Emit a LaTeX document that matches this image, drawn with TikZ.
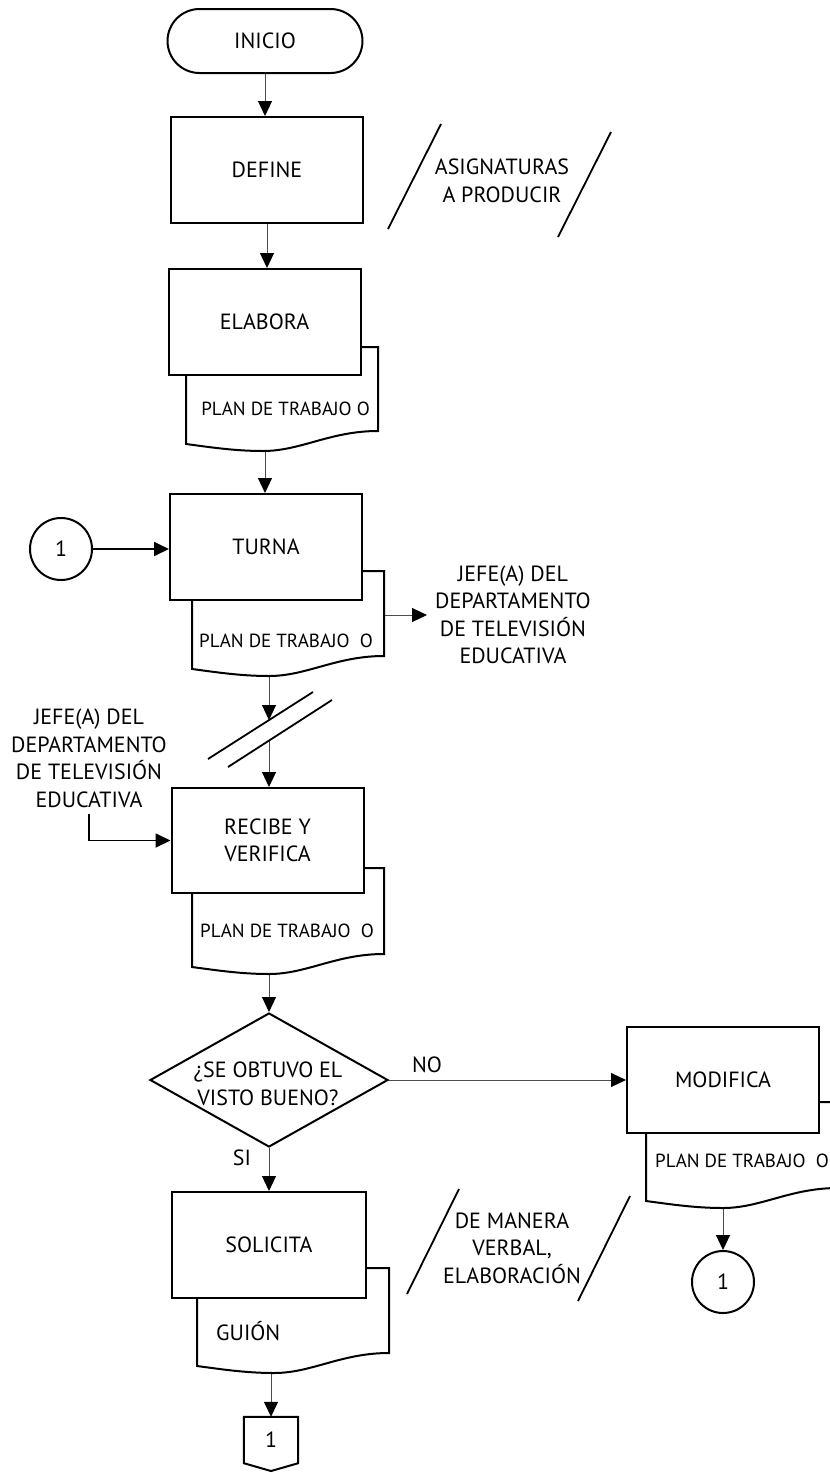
\documentclass[tikz,border=0pt]{standalone}
\usepackage{fontspec}
\setmainfont{PT Sans}
\usetikzlibrary{arrows.meta,shapes.geometric,shapes.misc}
\pgfdeclarelayer{bg}
\pgfsetlayers{bg,main}
\newcommand\docshape[3]{% #1 left x, #2 top y, #3 left-bottom y
  \draw[docst] (#1,#2) -- (#1+192,#2) -- (#1+192,#3-13)
    .. controls (#1+144,#3-13) and (#1+115,#3+7) .. (#1+77,#3+7)
    .. controls (#1+48,#3+7) and (#1+23,#3+3) .. (#1,#3) -- cycle;}
\begin{document}
\begin{tikzpicture}[x=1pt,y=-1pt,
  font=\fontsize{22}{27.5}\selectfont,
  box/.style={draw, line width=2pt, fill=white, minimum width=192pt,
    minimum height=106pt, inner sep=0pt, align=center},
  docst/.style={draw, line width=2pt, fill=white},
  doctext/.style={align=center, inner sep=0pt, font=\fontsize{19}{24}\selectfont},
  term/.style={draw, line width=2pt, fill=white, rounded rectangle,
    minimum width=195pt, minimum height=64pt, inner sep=0pt},
  conncircle/.style={draw, line width=2pt, fill=white, circle,
    minimum size=62pt, inner sep=0pt},
  conn/.style={line width=1pt, draw=black!70,
    -{Triangle[length=15pt,width=14pt,color=black]}},
  connthick/.style={line width=1.8pt, draw=black,
    -{Triangle[length=15pt,width=14pt,color=black]}},
  slash/.style={line width=1.8pt, draw=black},
  lbl/.style={align=center, inner sep=0pt}
]
\useasboundingbox (0,0) rectangle (830,1473);
\clip (0,0) rectangle (830,1473);

% documents (behind boxes)
\docshape{186}{347}{444}
\docshape{192}{571}{669}
\docshape{192}{868}{967}
\docshape{646}{1102}{1201}
\docshape{197}{1268}{1366}

% main nodes
\node[term] (inicio) at (265,41) {INICIO};
\node[box] (define) at (267,170) {DEFINE};
\node[box] (elabora) at (264.5,322) {ELABORA};
\node[box] (turna) at (266,547) {TURNA};
\node[box, minimum height=105pt] (recibe) at (267.5,840.5) {RECIBE Y\\VERIFICA};
\node[draw, line width=2pt, fill=white, diamond, aspect=1.776,
  minimum width=238pt, minimum height=134pt, inner sep=0pt] (dec) at (269,1080) {};
\node[lbl] (dectext) at (268,1084) {¿SE OBTUVO EL\\VISTO BUENO?};
\node[box] (modifica) at (723,1080) {MODIFICA};
\node[box, minimum width=194pt] (solicita) at (269,1245) {SOLICITA};
\node[conncircle] (c1L) at (61,549) {1};
\node[conncircle] (c1R) at (723,1282) {1};
\node[minimum width=54pt, minimum height=46pt, inner sep=0pt] (off) at (271,1440) {1};
\draw[line width=2pt] (off.north west) -- (off.north east) -- (off.south east)
  -- (271,1471) -- (off.south west) -- cycle;

% document texts
\node[doctext] (doc1) at (285.5,409) {PLAN DE TRABAJO O};
\node[doctext] (doc2) at (286,641) {PLAN DE TRABAJO\ \ O};
\node[doctext] (doc3) at (287,931) {PLAN DE TRABAJO\ \ O};
\node[doctext, anchor=west] (doc4) at (655,1161) {PLAN DE TRABAJO\ \ O};
\node[lbl, anchor=west] (doc5) at (216,1331) {GUIÓN};

% side texts
\node[lbl] (asig) at (502,181) {ASIGNATURAS\\A PRODUCIR};
\node[align=center, anchor=west, inner xsep=8pt, inner ysep=0pt] (jefeR) at (427,615)
  {JEFE(A) DEL\\DEPARTAMENTO\\DE TELEVISIÓN\\EDUCATIVA};
\node[align=center, inner xsep=0pt, inner ysep=6pt] (jefeL) at (89,758.5)
  {JEFE(A) DEL\\DEPARTAMENTO\\DE TELEVISIÓN\\EDUCATIVA};
\node[lbl] (manera) at (512,1248) {DE MANERA\\VERBAL,\\ELABORACIÓN};
\node[lbl] (no) at (427,1065) {NO};
\node[lbl] (si) at (242,1158) {SI};

% slashes
\draw[slash] (388,229) -- (441,124);
\draw[slash] (558,237) -- (611,132);
\draw[slash] (208,759) -- (313,692);
\draw[slash] (228,767) -- (332,700);
\draw[slash] (407,1294) -- (459,1189);
\draw[slash] (578,1301) -- (630,1196);

% connectors on background layer
\coordinate (e1) at (265,420);
\coordinate (t1) at (269,640);
\coordinate (s1) at (269,720);
\coordinate (s2) at (269,740.6);
\coordinate (r1) at (269,930);
\coordinate (so1) at (271,1340);
\coordinate (m1) at (723,1170);
\coordinate (tR) at (370,615);
\begin{pgfonlayer}{bg}
\draw[conn] (inicio.south) -- (inicio.south |- define.north);
\draw[conn] (define.south) -- (define.south |- elabora.north);
\draw[conn] (e1) -- (e1 |- turna.north);
\draw[conn] (t1) -- (s1);
\draw[conn] (s2) -- (s2 |- recibe.north);
\draw[conn] (r1) -- (dec.north);
\draw[conn] (dec.south) -- (dec.south |- solicita.north);
\draw[conn] (so1) -- (so1 |- off.north);
\draw[conn] (dec.east) -- (modifica.west);
\draw[conn] (m1) -- (c1R.north);
\draw[conn] (tR) -- (jefeR.west);
\draw[connthick] (c1L.east) -- (c1L.east -| turna.west);
\draw[connthick] (jefeL.south) |- (recibe.west);
\end{pgfonlayer}
\end{tikzpicture}
\end{document}
